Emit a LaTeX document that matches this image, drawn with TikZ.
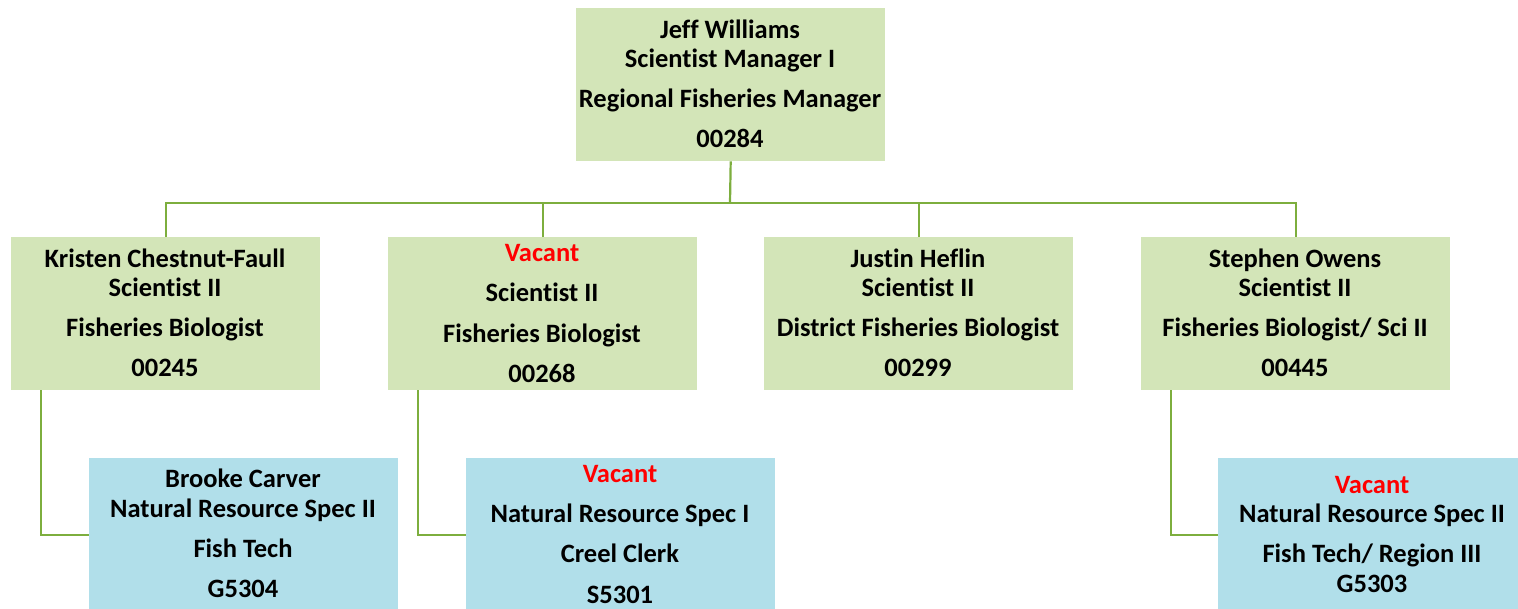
\documentclass[tikz,border=0pt]{standalone}
\usepackage{fontspec}
\setmainfont{Carlito}[Ligatures=NoCommon]
\definecolor{boxgreen}{HTML}{D3E5B8}
\definecolor{boxblue}{HTML}{B1DFEA}
\definecolor{linegreen}{HTML}{7DAE3E}
\definecolor{vacred}{HTML}{FF0000}
\tikzset{
  x=1pt,y=-1pt,
  gbox/.style={fill=boxgreen,draw=none,minimum width=309pt,minimum height=153pt,inner sep=0pt,anchor=north west},
  bbox/.style={fill=boxblue,draw=none,minimum width=309pt,minimum height=152pt,inner sep=0pt,anchor=north west},
  txt/.style={font=\fontsize{26.5}{30}\selectfont\bfseries,inner sep=0pt,anchor=base},
  vac/.style={txt,text=vacred},
  conn/.style={draw=linegreen,line width=2.2pt}
}
\begin{document}
\begin{tikzpicture}
\useasboundingbox (0,0) rectangle (1518,608);
% boxes
\node[gbox] (top) at (576,8) {};
\node[gbox] (b1) at (11,237) {};
\node[gbox] (b2) at (388,237) {};
\node[gbox] (b3) at (764,237) {};
\node[gbox] (b4) at (1141,237) {};
\node[bbox] (c1) at (89,458) {};
\node[bbox] (c2) at (466,458) {};
\node[bbox] (c4) at (1218,458) {};
% connectors
\coordinate (bar) at (730,203);
\draw[conn] (top.south) -- (bar);
\draw[conn] (b1.north) |- (bar) -| (b4.north);
\draw[conn] (b2.north) -- (b2.north |- bar);
\draw[conn] (b3.north) -- (b3.north |- bar);
\coordinate (j1) at (41,535);
\coordinate (j2) at (418,535);
\coordinate (j4) at (1171,535);
\draw[conn] (j1 |- b1.south) -- (j1) -- (j1 -| c1.west);
\draw[conn] (j2 |- b2.south) -- (j2) -- (j2 -| c2.west);
\draw[conn] (j4 |- b4.south) -- (j4) -- (j4 -| c4.west);
% texts top
\node[txt] (t1) at (730,38) {Jeff Williams};
\node[txt] (t2) at (730,67) {Scientist Manager I};
\node[txt] (t3) at (730,107) {Regional Fisheries Manager};
\node[txt] (t4) at (730,147) {00284};
% b1
\node[txt] (k1) at (165,267) {Kristen Chestnut-Faull};
\node[txt] (k2) at (165,296) {Scientist II};
\node[txt] (k3) at (165,336) {Fisheries Biologist};
\node[txt] (k4) at (165,376) {00245};
% b2
\node[vac] (v1) at (542,261) {Vacant};
\node[txt] (v2) at (542,301) {Scientist II};
\node[txt] (v3) at (542,342) {Fisheries Biologist};
\node[txt] (v4) at (542,382) {00268};
% b3
\node[txt] (h1) at (918,267) {Justin Heflin};
\node[txt] (h2) at (918,296) {Scientist II};
\node[txt] (h3) at (918,336) {District Fisheries Biologist};
\node[txt] (h4) at (918,376) {00299};
% b4
\node[txt] (s1) at (1295,267) {Stephen Owens};
\node[txt] (s2) at (1295,296) {Scientist II};
\node[txt] (s3) at (1295,336) {Fisheries Biologist/ Sci II};
\node[txt] (s4) at (1295,376) {00445};
% c1
\node[txt] (a1) at (243,487) {Brooke Carver};
\node[txt] (a2) at (243,517) {Natural Resource Spec II};
\node[txt] (a3) at (243,557) {Fish Tech};
\node[txt] (a4) at (243,597) {G5304};
% c2
\node[vac] (n1) at (620,482) {Vacant};
\node[txt] (n2) at (620,522) {Natural Resource Spec I};
\node[txt] (n3) at (620,562) {Creel Clerk};
\node[txt] (n4) at (620,603) {S5301};
% c4
\node[vac] (r1) at (1372,493) {Vacant};
\node[txt] (r2) at (1372,522) {Natural Resource Spec II};
\node[txt] (r3) at (1372,562) {Fish Tech/ Region III};
\node[txt] (r4) at (1372,592) {G5303};
\end{tikzpicture}
\end{document}
